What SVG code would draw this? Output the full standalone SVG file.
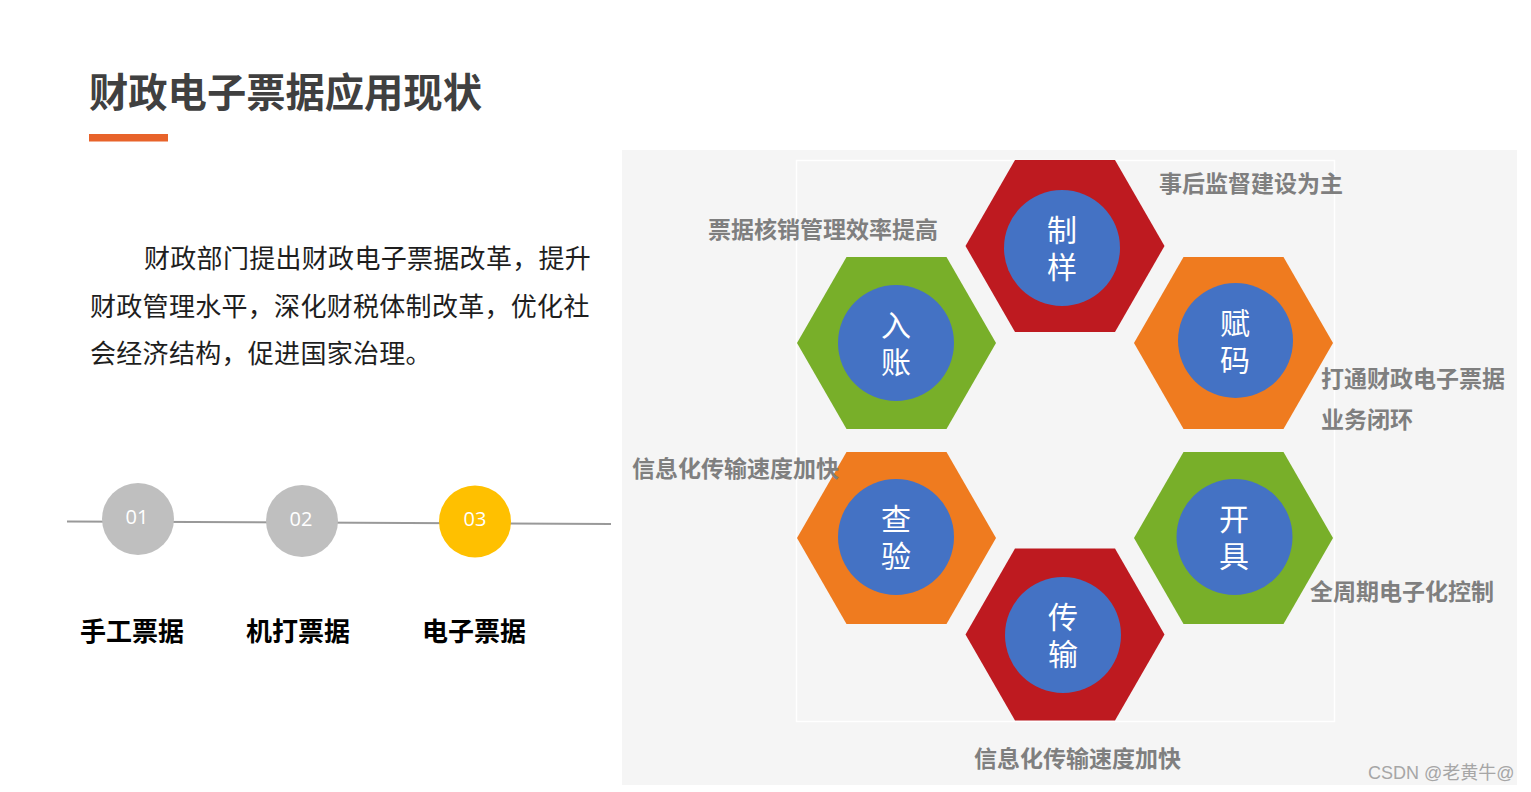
<svg xmlns="http://www.w3.org/2000/svg" width="1531" height="792" viewBox="0 0 1531 792">
<style>
.cjk{font-family:"Noto Sans CJK SC","Noto Sans",sans-serif}
.title{font-size:39.3px;font-weight:bold;fill:#404040}
.body{font-size:26px;fill:#1e1e1e;letter-spacing:0.3px}
.tl{font-size:26px;font-weight:bold;fill:#000}
.num{font-family:"Open Sans","Liberation Sans",sans-serif;font-size:20px;fill:#fff;text-anchor:middle}
.lbl{font-size:23px;font-weight:bold;fill:#7f7f7f}
.ct{font-size:30px;fill:#fff;writing-mode:vertical-rl;letter-spacing:7px}
.circ{fill:#4472c4}
.red{fill:#be1a20}
.green{fill:#78af29}
.orange{fill:#ef7b1f}
.wm{font-family:"Liberation Sans","Noto Sans CJK SC",sans-serif;font-size:18px;fill:#a6a6a6}
</style>
<defs>
<polygon id="hex" points="-99.5,0 -50,-86 50,-86 99.5,0 50,86 -50,86"/>
</defs>
<rect x="0" y="0" width="1531" height="792" fill="#fff"/>
<g id="title">
<text class="cjk title" x="89" y="107">财政电子票据应用现状</text>
<rect x="89" y="134" width="79" height="7.5" fill="#e8632a"/>
</g>
<g id="body">
<text class="cjk body" x="144" y="268">财政部门提出财政电子票据改革，提升</text>
<text class="cjk body" x="90" y="316">财政管理水平，深化财税体制改革，优化社</text>
<text class="cjk body" x="90" y="363">会经济结构，促进国家治理。</text>
</g>
<g id="connectors">
<line x1="67" y1="521.5" x2="611" y2="524" stroke="#999" stroke-width="2"/>
</g>
<g id="step01">
<circle cx="138" cy="519" r="36" fill="#bfbfbf"/>
<text class="num" x="137" y="524">01</text>
<text class="cjk tl" x="80" y="641">手工票据</text>
</g>
<g id="step02">
<circle cx="302" cy="521" r="36" fill="#bfbfbf"/>
<text class="num" x="301" y="526">02</text>
<text class="cjk tl" x="246" y="641">机打票据</text>
</g>
<g id="step03">
<circle cx="475" cy="521.5" r="36" fill="#ffc000"/>
<text class="num" x="475" y="526">03</text>
<text class="cjk tl" x="422" y="641">电子票据</text>
</g>
<g id="panel">
<rect x="622" y="150" width="895" height="635" fill="#f5f5f5"/>
<rect x="796.5" y="160.5" width="538" height="561" fill="none" stroke="#fff" stroke-width="1.5"/>
</g>
<g id="hex-zhiyang">
<use href="#hex" class="red" transform="translate(1065,246)"/>
<circle class="circ" cx="1062" cy="248" r="58"/>
<text class="cjk ct" x="1062" y="215">制样</text>
</g>
<g id="hex-ruzhang">
<use href="#hex" class="green" transform="translate(896.5,343)"/>
<circle class="circ" cx="896" cy="343" r="58"/>
<text class="cjk ct" x="896" y="309.5">入账</text>
</g>
<g id="hex-fuma">
<use href="#hex" class="orange" transform="translate(1233.5,343)"/>
<circle class="circ" cx="1235.5" cy="340.5" r="57.5"/>
<text class="cjk ct" x="1235" y="307.5">赋码</text>
</g>
<g id="hex-chayan">
<use href="#hex" class="orange" transform="translate(896.5,538)"/>
<circle class="circ" cx="896" cy="537" r="58"/>
<text class="cjk ct" x="896" y="503.5">查验</text>
</g>
<g id="hex-chuanshu">
<use href="#hex" class="red" transform="translate(1065,634.5)"/>
<circle class="circ" cx="1063" cy="635" r="58"/>
<text class="cjk ct" x="1063" y="601.5">传输</text>
</g>
<g id="hex-kaiju">
<use href="#hex" class="green" transform="translate(1233.5,538)"/>
<circle class="circ" cx="1234.5" cy="537" r="58"/>
<text class="cjk ct" x="1234" y="503.5">开具</text>
</g>
<g id="labels">
<text class="cjk lbl" x="1159" y="192">事后监督建设为主</text>
<text class="cjk lbl" x="708" y="238">票据核销管理效率提高</text>
<text class="cjk lbl" x="1321" y="387">打通财政电子票据</text>
<text class="cjk lbl" x="1321" y="428">业务闭环</text>
<text class="cjk lbl" x="632" y="477">信息化传输速度加快</text>
<text class="cjk lbl" x="1310" y="600">全周期电子化控制</text>
<text class="cjk lbl" x="974" y="767">信息化传输速度加快</text>
</g>
<text class="wm" x="1368" y="779">CSDN @老黄牛@</text>
</svg>
